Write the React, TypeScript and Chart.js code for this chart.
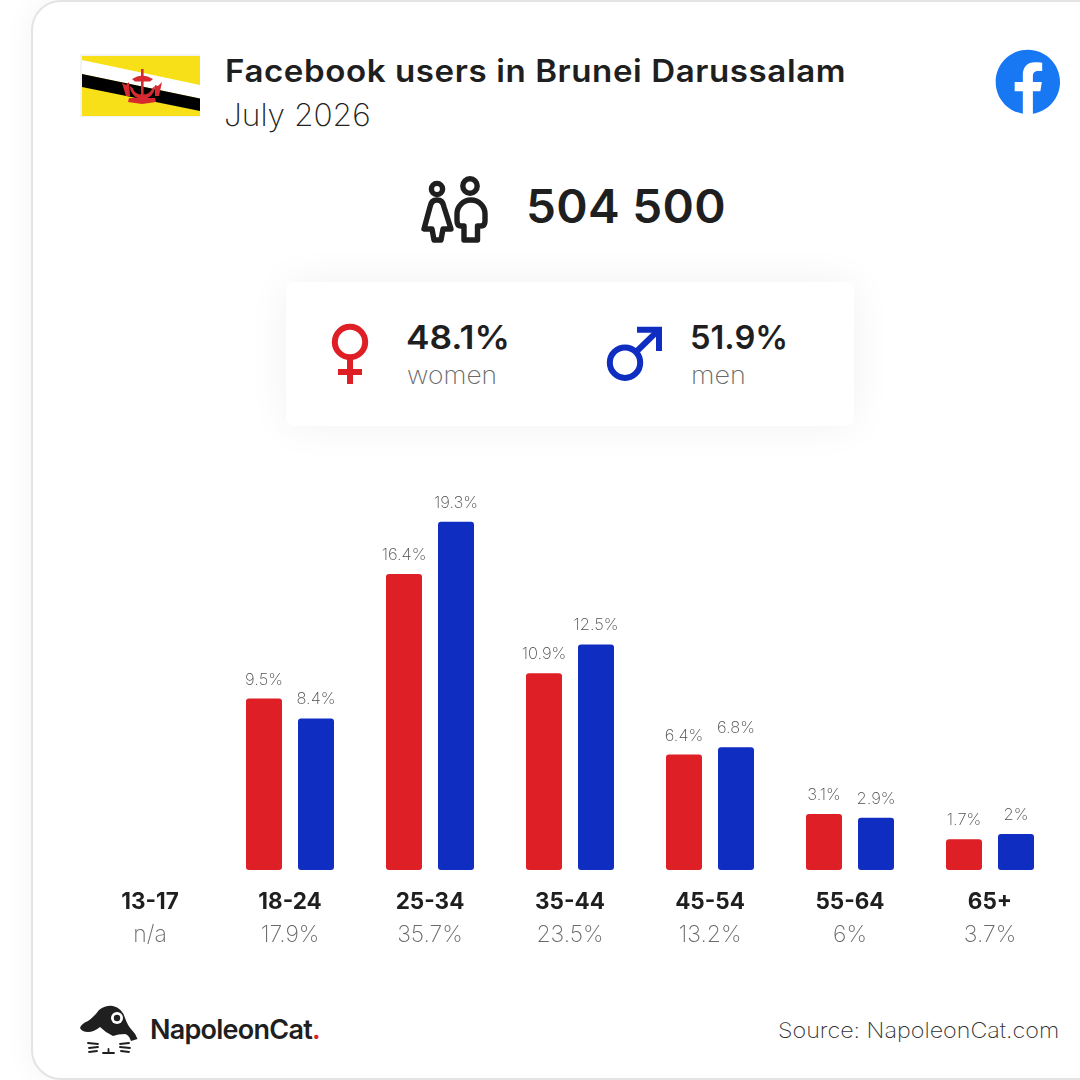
import React, { useEffect, useRef } from "react";
import { Chart, registerables } from "chart.js";

Chart.register(...registerables);

const ageGroups = ["13-17", "18-24", "25-34", "35-44", "45-54", "55-64", "65+"];
const ageTotals = ["n/a", "17.9%", "35.7%", "23.5%", "13.2%", "6%", "3.7%"];
const womenValues = [null, 9.5, 16.4, 10.9, 6.4, 3.1, 1.7];
const menValues = [null, 8.4, 19.3, 12.5, 6.8, 2.9, 2];

const titleText = "Facebook users in Brunei Darussalam";
const dateText = "July 2026";
const totalUsers = "504 500";
const womenShare = "48.1%";
const menShare = "51.9%";

const FONT = "Inter, 'Noto Sans', sans-serif";
const RED = "#df1f26";
const BLUE = "#0f2dc0";
const DARK = "#1f1f1f";
const GREY = "#6a6a6a";

const barLabels = {
  id: "barLabels",
  afterDatasetsDraw(chart: any) {
    const { ctx } = chart;
    ctx.save();
    ctx.font = `200 16.5px ${FONT}`;
    ctx.fillStyle = "#4f4f4f";
    ctx.textAlign = "center";
    ctx.textBaseline = "alphabetic";
    chart.data.datasets.forEach((ds: any, i: number) => {
      chart.getDatasetMeta(i).data.forEach((bar: any, j: number) => {
        const v = ds.data[j];
        if (v == null) return;
        ctx.fillText(`${v}%`, bar.x, bar.y - 14);
      });
    });
    ctx.restore();
  },
};

const text = (
  content: React.ReactNode,
  left: number,
  cy: number,
  size: number,
  weight: number,
  color: string,
  stretch = 1,
  extra: React.CSSProperties = {}
) => (
  <div
    style={{
      position: "absolute",
      left,
      top: cy - 30,
      height: 60,
      lineHeight: "60px",
      fontFamily: FONT,
      fontSize: size,
      fontWeight: weight,
      color,
      whiteSpace: "nowrap",
      transform: `scaleX(${stretch})`,
      transformOrigin: "left center",
      ...extra,
    }}
  >
    {content}
  </div>
);

export default function App() {
  const ref = useRef<HTMLCanvasElement | null>(null);

  useEffect(() => {
    const chart = new Chart(ref.current as HTMLCanvasElement, {
      type: "bar",
      data: {
        labels: ageGroups,
        datasets: [
          { label: "Women", data: womenValues, backgroundColor: RED },
          { label: "Men", data: menValues, backgroundColor: BLUE },
        ],
      },
      options: {
        responsive: false,
        animation: false,
        layout: { padding: { left: 80, right: 20, top: 470, bottom: 118 } },
        datasets: {
          bar: {
            barPercentage: 36 / 52,
            categoryPercentage: 104 / 140,
            borderRadius: 3,
            borderSkipped: false,
          },
        },
        plugins: { legend: { display: false }, tooltip: { enabled: false } },
        scales: {
          y: { display: false, min: 0, max: 22.17 },
          x: {
            offset: true,
            position: "bottom",
            grid: { display: false, drawTicks: false },
            border: { display: false },
            afterFit: (s: any) => { s.height = 46; },
            ticks: {
              autoSkip: false,
              maxRotation: 0,
              padding: 19,
              color: DARK,
              font: { family: FONT, size: 22.5, weight: "700" },
            },
          },
          x2: {
            type: "category",
            labels: ageTotals,
            offset: true,
            position: "bottom",
            grid: { display: false, drawTicks: false },
            border: { display: false },
            afterFit: (s: any) => { s.height = 46; },
            ticks: {
              autoSkip: false,
              maxRotation: 0,
              padding: 5,
              color: GREY,
              font: { family: FONT, size: 23, weight: "200" },
            },
          },
        },
      } as any,
      plugins: [barLabels],
    });
    return () => chart.destroy();
  }, []);

  return (
    <div style={{ position: "absolute", left: 0, top: 0, width: 1080, height: 1080, overflow: "hidden", background: "#fff" }}>
      <div
        style={{
          position: "absolute",
          left: 31,
          top: 0,
          width: 1200,
          height: 1080,
          boxSizing: "border-box",
          border: "2px solid #e4e4e4",
          borderRadius: 30,
          background: "#fff",
          boxShadow: "0 0 30px rgba(0,0,0,0.05)",
        }}
      />

      <svg style={{ position: "absolute", left: 0, top: 0 }} width={1080} height={1080}>
        {/* flag */}
        <rect x={80} y={54} width={120} height={63} fill="#f3f3f3" />
        <rect x={82} y={56} width={118} height={60} fill="#f7e017" />
        <polygon points="82,60 200,85 200,98.5 82,74" fill="#ffffff" />
        <polygon points="82,74 200,98.5 200,111 82,87" fill="#000000" />
        <g fill="#d62a30" stroke="none">
          <rect x={141} y={69} width={2.6} height={28} />
          <path d="M132 79 Q142 72 153 79 L150 81.5 H135 Z" />
          <path d="M130 86 A12.5 13 0 0 0 155 86 L152.5 88 A10.5 9.5 0 0 1 132.5 88 Z" />
          <path d="M122 83 L126 85 L129 82 L130 96 L126 96 Z" />
          <path d="M162 82 L158 86 L155 85 L155 96 L159 96 Z" />
          <path d="M129 98 L155 98 L156 102 L142 104 L128 102 Z" />
        </g>

        {/* facebook */}
        <g transform="translate(995.7 49.6) scale(2.68)">
          <path
            fill="#1877f2"
            d="M24 12.073c0-6.627-5.373-12-12-12s-12 5.373-12 12c0 5.99 4.388 10.954 10.125 11.854v-8.385H7.078v-3.47h3.047V9.43c0-3.007 1.792-4.669 4.533-4.669 1.312 0 2.686.235 2.686.235v2.953H15.83c-1.491 0-1.956.925-1.956 1.874v2.25h3.328l-.532 3.47h-2.796v8.385C19.612 23.027 24 18.062 24 12.073z"
          />
        </g>

        {/* people */}
        <g fill="none" stroke="#1f1f1f" strokeWidth={5.4} strokeLinejoin="round" strokeLinecap="round">
          <circle cx={437} cy={189} r={5.6} />
          <circle cx={470} cy={186} r={7.2} />
          <path d="M437 200 Q431 200 430 207 L424 229 H432 L434 240 H441 L443 229 H451 L444 207 Q443 200 437 200 Z" />
          <path d="M464 226 H461 Q457 226 457 221 V214 A14 14 0 0 1 485 214 V221 Q485 226 481 226 H477.5 V240 H464 Z" />
        </g>

        {/* logo */}
        <path
          fill="#1f1f1f"
          d="M80 1028 Q81 1024 88 1021 Q95 1016 99 1010 Q106 1005 113 1006 Q122 1008 125 1018 Q128 1026 131 1029 Q136 1034 137.5 1039 L131 1041 Q129 1035 125 1034 Q118 1034 113 1036 Q106 1033 100 1027 Q94 1032 88 1032 Q82 1032 80 1028 Z"
        />
        <circle cx={117} cy={1018} r={6} fill="#fff" />
        <circle cx={117} cy={1018} r={3.2} fill="#1f1f1f" />
        <g stroke="#1f1f1f" strokeWidth={1.8} fill="none" strokeLinecap="round">
          <path d="M88 1043 L98 1044 M89 1048 L98 1047 M89 1052 L97 1051" />
          <path d="M129 1043 L120 1044 M130 1048 L120 1047 M129 1052 L121 1051" />
          <path d="M103 1053 H114 M108.5 1049 V1053" />
        </g>
      </svg>

      <div
        style={{
          position: "absolute",
          left: 286,
          top: 282,
          width: 568,
          height: 144,
          borderRadius: 8,
          background: "#fff",
          boxShadow: "0 0 40px rgba(0,0,0,0.06)",
        }}
      />
      <svg style={{ position: "absolute", left: 286, top: 282 }} width={568} height={144}>
        <g fill="none" stroke={RED} strokeWidth={6}>
          <circle cx={64} cy={60} r={15.2} />
          <path d="M64 76 V102 M52 90 H76" />
        </g>
        <g fill="none" stroke={BLUE} strokeWidth={6}>
          <circle cx={339} cy={80.7} r={15.2} />
          <path d="M350 70 L373 47.7" />
          <path d="M351 47.7 H373 V69" />
        </g>
      </svg>

      {text(titleText, 225, 71, 31, 600, DARK, 1.067, { letterSpacing: 0.55 })}
      {text(dateText, 224, 115, 31, 200, "#222", 1.022)}
      {text(totalUsers, 526, 206, 46, 600, DARK, 1.035, { letterSpacing: 0.3 })}
      {text(womenShare, 406, 337, 33, 600, DARK, 1.07)}
      {text("women", 407, 376, 24, 200, GREY, 1.1)}
      {text(menShare, 690, 337, 33, 600, DARK, 0.99)}
      {text("men", 691, 376, 24, 200, GREY, 1.125)}
      {text(
        <>
          NapoleonCat<span style={{ color: "#e01f26" }}>.</span>
        </>,
        150,
        1030,
        27,
        600,
        DARK,
        1,
        { letterSpacing: -0.75 }
      )}
      {text("Source: NapoleonCat.com", 778, 1031, 21, 200, "#333", 1.11)}

      <canvas ref={ref} width={1080} height={1080} style={{ position: "absolute", left: 0, top: 0 }} />
    </div>
  );
}
